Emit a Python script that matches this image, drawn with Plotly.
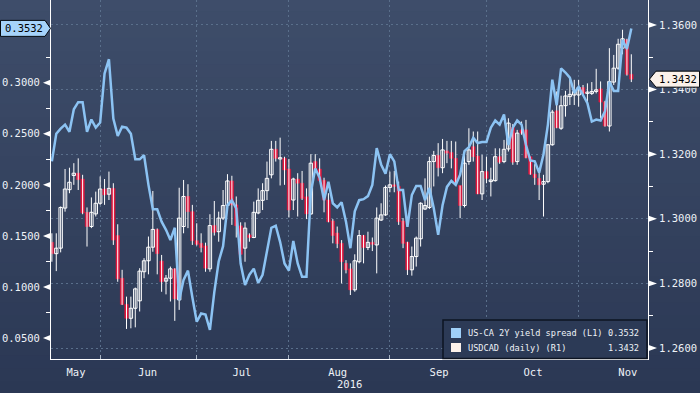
import plotly.graph_objects as go
import pandas as pd

# ---------------- data ----------------
dates = pd.bdate_range("2016-05-17", periods=133)

usdcad_open = [
    1.2927, 1.2892, 1.2909, 1.3033, 1.3090, 1.3134, 1.3141, 1.3123, 1.3020, 1.2976,
    1.3015, 1.3048, 1.3092, 1.3076, 1.3094, 1.2948, 1.2816, 1.2735, 1.2692, 1.2723,
    1.2746, 1.2836, 1.2870, 1.2912, 1.2967, 1.2869, 1.2807, 1.2816, 1.2845, 1.2749,
    1.2976, 1.3069, 1.3022, 1.2932, 1.2924, 1.2916, 1.2845, 1.2979, 1.2960, 1.3002,
    1.3041, 1.3117, 1.3043, 1.2978, 1.2909, 1.2950, 1.2942, 1.3018, 1.3057, 1.3087,
    1.3136, 1.3215, 1.3185, 1.3187, 1.3154, 1.3058, 1.3123, 1.3110, 1.3068, 1.3015,
    1.3177, 1.3154, 1.3119, 1.3058, 1.2993, 1.2956, 1.2924, 1.2862, 1.2845, 1.2780,
    1.2867, 1.2948, 1.2911, 1.2927, 1.2919, 1.2996, 1.3012, 1.3097, 1.3105, 1.3100,
    1.2993, 1.2927, 1.2842, 1.2883, 1.2938, 1.3030, 1.3035, 1.3177, 1.3196, 1.3158,
    1.3210, 1.3205, 1.3187, 1.3103, 1.3041, 1.3177, 1.3223, 1.3194, 1.3077, 1.3146,
    1.3115, 1.3118, 1.3192, 1.3177, 1.3216, 1.3282, 1.3177, 1.3275, 1.3275, 1.3192,
    1.3138, 1.3125, 1.3107, 1.3115, 1.3229, 1.3334, 1.3280, 1.3350, 1.3378, 1.3383,
    1.3383, 1.3406, 1.3388, 1.3388, 1.3394, 1.3402, 1.3361, 1.3287, 1.3423, 1.3466,
    1.3528, 1.3554, 1.3447,
]
usdcad_high = [
    1.2955, 1.2955, 1.3038, 1.3154, 1.3158, 1.3172, 1.3187, 1.3136, 1.3035, 1.3066,
    1.3084, 1.3131, 1.3123, 1.3146, 1.3110, 1.2983, 1.2842, 1.2759, 1.2759, 1.2787,
    1.2847, 1.2878, 1.2945, 1.3086, 1.2970, 1.2888, 1.2826, 1.2852, 1.2847, 1.3096,
    1.3120, 1.3107, 1.3043, 1.2986, 1.2955, 1.2926, 1.3014, 1.3055, 1.3022, 1.3089,
    1.3138, 1.3133, 1.3069, 1.2989, 1.2989, 1.2955, 1.3053, 1.3094, 1.3110, 1.3177,
    1.3241, 1.3241, 1.3251, 1.3192, 1.3185, 1.3127, 1.3141, 1.3148, 1.3094, 1.3200,
    1.3200, 1.3187, 1.3127, 1.3079, 1.2999, 1.2976, 1.2934, 1.2872, 1.2862, 1.2890,
    1.2965, 1.2950, 1.2960, 1.2942, 1.3035, 1.3048, 1.3103, 1.3146, 1.3148, 1.3115,
    1.3002, 1.2929, 1.2914, 1.2945, 1.3051, 1.3125, 1.3192, 1.3210, 1.3234, 1.3247,
    1.3241, 1.3241, 1.3239, 1.3103, 1.3198, 1.3280, 1.3270, 1.3270, 1.3198, 1.3192,
    1.3158, 1.3218, 1.3218, 1.3244, 1.3311, 1.3293, 1.3275, 1.3301, 1.3306, 1.3192,
    1.3169, 1.3154, 1.3136, 1.3231, 1.3337, 1.3394, 1.3381, 1.3396, 1.3433, 1.3430,
    1.3430, 1.3414, 1.3419, 1.3423, 1.3464, 1.3425, 1.3365, 1.3528, 1.3507, 1.3557,
    1.3585, 1.3557, 1.3509,
]
usdcad_low = [
    1.2867, 1.2838, 1.2896, 1.3022, 1.3079, 1.3105, 1.3089, 1.3014, 1.2914, 1.2971,
    1.3007, 1.3043, 1.3043, 1.3058, 1.2919, 1.2805, 1.2733, 1.2659, 1.2661, 1.2664,
    1.2713, 1.2816, 1.2828, 1.2898, 1.2828, 1.2774, 1.2766, 1.2744, 1.2684, 1.2718,
    1.2955, 1.2971, 1.2919, 1.2917, 1.2896, 1.2836, 1.2836, 1.2948, 1.2929, 1.2996,
    1.3033, 1.2981, 1.2942, 1.2888, 1.2867, 1.2929, 1.2940, 1.3014, 1.3027, 1.3058,
    1.3125, 1.3177, 1.3103, 1.3105, 1.3004, 1.3027, 1.3007, 1.3058, 1.2999, 1.3012,
    1.3148, 1.3115, 1.3020, 1.2989, 1.2924, 1.2909, 1.2800, 1.2831, 1.2764, 1.2774,
    1.2862, 1.2862, 1.2903, 1.2900, 1.2831, 1.2993, 1.3009, 1.3082, 1.3082, 1.2981,
    1.2909, 1.2826, 1.2824, 1.2852, 1.2914, 1.3027, 1.3030, 1.3100, 1.3131, 1.3141,
    1.3172, 1.3156, 1.3105, 1.3002, 1.3035, 1.3167, 1.3177, 1.3076, 1.3058, 1.3110,
    1.3069, 1.3115, 1.3170, 1.3172, 1.3208, 1.3167, 1.3167, 1.3260, 1.3187, 1.3136,
    1.3105, 1.3058, 1.3007, 1.3110, 1.3226, 1.3280, 1.3275, 1.3316, 1.3352, 1.3352,
    1.3347, 1.3383, 1.3358, 1.3383, 1.3388, 1.3311, 1.3285, 1.3270, 1.3414, 1.3461,
    1.3509, 1.3443, 1.3423,
]
usdcad_close = [
    1.2892, 1.2909, 1.3035, 1.3092, 1.3113, 1.3141, 1.3121, 1.3018, 1.2976, 1.3020,
    1.3048, 1.3092, 1.3074, 1.3094, 1.2934, 1.2814, 1.2735, 1.2692, 1.2723, 1.2783,
    1.2838, 1.2870, 1.2912, 1.2967, 1.2892, 1.2805, 1.2816, 1.2845, 1.2752, 1.3002,
    1.3069, 1.3022, 1.2932, 1.2921, 1.2911, 1.2847, 1.2979, 1.2958, 1.3002, 1.3041,
    1.3117, 1.3043, 1.2978, 1.2890, 1.2971, 1.2942, 1.3020, 1.3057, 1.3087, 1.3125,
    1.3215, 1.3187, 1.3189, 1.3151, 1.3027, 1.3123, 1.3110, 1.3063, 1.3015, 1.3172,
    1.3154, 1.3118, 1.3058, 1.2991, 1.2948, 1.2923, 1.2867, 1.2842, 1.2780, 1.2870,
    1.2948, 1.2911, 1.2927, 1.2921, 1.3002, 1.3012, 1.3097, 1.3105, 1.3100, 1.2991,
    1.2924, 1.2842, 1.2883, 1.2940, 1.3048, 1.3041, 1.3177, 1.3196, 1.3158, 1.3213,
    1.3203, 1.3187, 1.3110, 1.3041, 1.3172, 1.3213, 1.3192, 1.3077, 1.3146, 1.3125,
    1.3120, 1.3192, 1.3175, 1.3215, 1.3296, 1.3175, 1.3265, 1.3265, 1.3189, 1.3138,
    1.3127, 1.3105, 1.3115, 1.3229, 1.3330, 1.3282, 1.3350, 1.3380, 1.3385, 1.3394,
    1.3406, 1.3388, 1.3392, 1.3394, 1.3399, 1.3361, 1.3287, 1.3425, 1.3466, 1.3540,
    1.3557, 1.3447, 1.3432,
]
spread_2y = [
    0.223, 0.250, 0.255, 0.259, 0.252, 0.274, 0.281, 0.281, 0.252, 0.264,
    0.256, 0.261, 0.309, 0.323, 0.265, 0.248, 0.257, 0.256, 0.250, 0.225,
    0.225, 0.229, 0.200, 0.176, 0.176, 0.164, 0.156, 0.146, 0.158, 0.087,
    0.107, 0.116, 0.090, 0.066, 0.074, 0.073, 0.058, 0.095, 0.125, 0.140,
    0.180, 0.185, 0.177, 0.123, 0.102, 0.112, 0.118, 0.104, 0.112, 0.136,
    0.158, 0.160, 0.144, 0.123, 0.116, 0.145, 0.123, 0.110, 0.110, 0.193,
    0.216, 0.207, 0.185, 0.203, 0.182, 0.178, 0.183, 0.164, 0.138, 0.174,
    0.185, 0.186, 0.189, 0.200, 0.236, 0.220, 0.211, 0.230, 0.223, 0.195,
    0.195, 0.159, 0.190, 0.199, 0.199, 0.185, 0.197, 0.177, 0.151, 0.180,
    0.198, 0.204, 0.200, 0.210, 0.233, 0.237, 0.246, 0.241, 0.242, 0.242,
    0.256, 0.263, 0.259, 0.269, 0.239, 0.256, 0.263, 0.259, 0.239, 0.224,
    0.223, 0.212, 0.230, 0.259, 0.303, 0.278, 0.314, 0.310, 0.305, 0.290,
    0.296, 0.288, 0.280, 0.262, 0.264, 0.263, 0.272, 0.301, 0.292, 0.292,
    0.342, 0.333, 0.3532,
]
spread_last = 0.3532
usdcad_last = 1.3432
series_names = ["US-CA 2Y yield spread (L1)", "USDCAD (daily) (R1)"]
month_names = ["May", "Jun", "Jul", "Aug", "Sep", "Oct", "Nov"]
year_label = "2016"
left_ticks = [0.05, 0.10, 0.15, 0.20, 0.25, 0.30]
left_minor = [0.075, 0.125, 0.175, 0.225, 0.275, 0.325]
right_ticks = [1.26, 1.28, 1.30, 1.32, 1.34, 1.36]
right_minor = [1.27, 1.29, 1.31, 1.33, 1.35]

# ---------------- styles ----------------
FONT = "DejaVu Sans Mono"
RED = "#e2163d"
BLUE = "#8cc3f3"
CREAM = "#fbf1ea"
GRID = "#5a6f8b"
HOLLOW = "#35435f"
TXT = "#eef2f7"

LEFT_RANGE = [0.0295, 0.381]
RIGHT_RANGE = [1.2566, 1.3677]

x = list(range(len(dates)))
month_bounds = [i for i in range(1, len(dates)) if dates[i].month != dates[i - 1].month]
month_label_pos = [5.5, 21.8, 43.3, 65.1, 88.2, 109.6, 131.2]

# wicks
wx, wy = [], []
for i in x:
    wx += [i, i, None]
    wy += [usdcad_low[i], usdcad_high[i], None]

ux, ub, uh, dx, db, dh = [], [], [], [], [], []
for i in x:
    o, c = usdcad_open[i], usdcad_close[i]
    if c >= o:
        ux.append(i); ub.append(o); uh.append(max(c - o, 0.0002))
    else:
        dx.append(i); db.append(c); dh.append(max(o - c, 0.0002))

fig = go.Figure()
fig.add_trace(go.Scatter(x=wx, y=wy, mode="lines", line=dict(color="white", width=1),
                         yaxis="y", hoverinfo="skip", showlegend=False))
fig.add_trace(go.Bar(x=ux, y=uh, base=ub, width=0.78, yaxis="y",
                     marker=dict(color=HOLLOW, line=dict(color="white", width=1)),
                     showlegend=False))
fig.add_trace(go.Bar(x=dx, y=dh, base=db, width=0.8, yaxis="y",
                     marker=dict(color=RED, line=dict(color=RED, width=0.5)),
                     showlegend=False))
fig.add_trace(go.Scatter(x=x, y=spread_2y, mode="lines", yaxis="y2",
                         line=dict(color=BLUE, width=2.5), showlegend=False))

W, H = 700, 393
L, R, T, B = 51, 52, 0, 34
PW, PH = W - L - R, H - T - B


def px(p):
    return (p - L) / PW


def py(p):
    return (H - B - p) / PH


shapes = []
# background gradient bands
top = (62, 77, 106)
bot = (43, 56, 84)
n = 30
y_lo, y_hi = py(H + 2), py(-2)
for k in range(n):
    t = k / (n - 1)
    col = tuple(round(top[j] + (bot[j] - top[j]) * t) for j in range(3))
    y1 = y_hi - (y_hi - y_lo) * k / n
    y0 = y_hi - (y_hi - y_lo) * (k + 1) / n - 0.003
    shapes.append(dict(type="rect", xref="paper", yref="paper", x0=px(-5), x1=px(W + 5),
                       y0=y0, y1=y1, fillcolor="rgb(%d,%d,%d)" % col, line=dict(width=0),
                       layer="below"))

# tick triangles
hL = 3.2 * (LEFT_RANGE[1] - LEFT_RANGE[0]) / PH
hR = 3.2 * (RIGHT_RANGE[1] - RIGHT_RANGE[0]) / PH
for v in left_ticks:
    shapes.append(dict(type="path", xref="paper", yref="y2",
                       path="M %f,%f L %f,%f L %f,%f Z" % (px(43), v, px(51), v + hL, px(51), v - hL),
                       fillcolor="white", line=dict(width=0), layer="above"))
for v in right_ticks:
    shapes.append(dict(type="path", xref="paper", yref="y",
                       path="M %f,%f L %f,%f L %f,%f Z" % (px(657), v, px(648), v + hR, px(648), v - hR),
                       fillcolor="white", line=dict(width=0), layer="above"))

# value pins
hs = 8 * (LEFT_RANGE[1] - LEFT_RANGE[0]) / PH
v = spread_last
shapes.append(dict(type="path", xref="paper", yref="y2",
                   path="M %f,%f L %f,%f L %f,%f L %f,%f L %f,%f Z" % (
                       px(0.5), v - hs, px(45), v - hs, px(50.5), v, px(45), v + hs, px(0.5), v + hs),
                   fillcolor="#a6d3fa", line=dict(color="#05080d", width=1), layer="above"))
hp = 8 * (RIGHT_RANGE[1] - RIGHT_RANGE[0]) / PH
v = usdcad_last
shapes.append(dict(type="path", xref="paper", yref="y",
                   path="M %f,%f L %f,%f L %f,%f L %f,%f L %f,%f Z" % (
                       px(649.5), v, px(656), v - hp, px(699.5), v - hp, px(699.5), v + hp, px(656), v + hp),
                   fillcolor=CREAM, line=dict(color="#05080d", width=1), layer="above"))

# legend box
shapes.append(dict(type="rect", xref="paper", yref="paper", x0=px(443), x1=px(647),
                   y0=py(358.5), y1=py(320), fillcolor="#2c3a56",
                   line=dict(color="#0d1422", width=1.5), layer="above"))
shapes.append(dict(type="rect", xref="paper", yref="paper", x0=px(451), x1=px(461),
                   y0=py(338), y1=py(328), fillcolor="#9fcff8", line=dict(width=0), layer="above"))
shapes.append(dict(type="rect", xref="paper", yref="paper", x0=px(451), x1=px(461),
                   y0=py(352), y1=py(343), fillcolor=CREAM, line=dict(width=0), layer="above"))

LEGF = dict(family=FONT, size=8.6, color=TXT)
annotations = [
    dict(text="%.4f" % spread_last, xref="paper", yref="y2", x=px(23.5), y=spread_last,
         xanchor="center", yanchor="middle",
         showarrow=False, font=dict(family=FONT, size=10.5, color="#000000")),
    dict(text="%.4f" % usdcad_last, xref="paper", yref="y", x=px(677.5), y=usdcad_last,
         xanchor="center", yanchor="middle",
         showarrow=False, font=dict(family=FONT, size=10.5, color="#000000")),
    dict(text=series_names[0], xref="paper", yref="paper", x=px(466), y=py(333),
         xanchor="left", yanchor="middle", showarrow=False, font=LEGF),
    dict(text="%.4f" % spread_last, xref="paper", yref="paper", x=px(641), y=py(333),
         xanchor="right", yanchor="middle", showarrow=False, font=LEGF),
    dict(text=series_names[1], xref="paper", yref="paper", x=px(466), y=py(347.5),
         xanchor="left", yanchor="middle", showarrow=False, font=LEGF),
    dict(text="%.4f" % usdcad_last, xref="paper", yref="paper", x=px(641), y=py(347.5),
         xanchor="right", yanchor="middle", showarrow=False, font=LEGF),
    dict(text=year_label, xref="paper", yref="paper", x=px(349), y=py(384),
         xanchor="center", yanchor="middle", showarrow=False,
         font=dict(family=FONT, size=10.5, color=TXT)),
]

tickfont = dict(family=FONT, size=10.5, color=TXT)
fig.update_layout(
    width=W, height=H,
    margin=dict(l=L, r=R, t=T, b=B, pad=0, autoexpand=False),
    paper_bgcolor="#34425f",
    plot_bgcolor="rgba(0,0,0,0)",
    barmode="overlay",
    showlegend=False,
    hovermode=False,
    shapes=shapes,
    annotations=annotations,
    xaxis=dict(
        range=[-0.2, 135.8], showline=True, linecolor="white", linewidth=1,
        automargin=False,
        tickmode="array", tickvals=month_label_pos, ticktext=month_names,
        ticks="outside", ticklen=3, tickcolor="rgba(0,0,0,0)", showgrid=False,
        zeroline=False, tickfont=tickfont,
        minor=dict(tickmode="array", tickvals=month_bounds, ticks="inside", ticklen=4,
                   tickcolor="#a8b4c4", showgrid=True, gridcolor=GRID, griddash="2px,3px",
                   gridwidth=1),
    ),
    yaxis=dict(
        side="right", range=RIGHT_RANGE, tickmode="array", tickvals=right_ticks,
        automargin=False,
        tickformat=".4f", ticks="outside", ticklen=8, tickcolor="rgba(0,0,0,0)",
        showgrid=True, gridcolor=GRID, griddash="2px,3px", gridwidth=1,
        showline=True, linecolor="white", linewidth=1, zeroline=False, tickfont=tickfont,
        minor=dict(tickmode="array", tickvals=right_minor, ticks="outside", ticklen=4,
                   tickcolor="white", showgrid=False),
    ),
    yaxis2=dict(
        overlaying="y", side="left", range=LEFT_RANGE, tickmode="array",
        automargin=False,
        tickvals=left_ticks, tickformat=".4f", ticks="outside", ticklen=8,
        tickcolor="rgba(0,0,0,0)", showgrid=False, showline=True, linecolor="white",
        linewidth=1, zeroline=False, tickfont=tickfont,
        minor=dict(tickmode="array", tickvals=left_minor, ticks="outside", ticklen=4,
                   tickcolor="white", showgrid=False),
    ),
)

fig.write_html("out.html",
               config={"displayModeBar": False, "staticPlot": True},
               post_script="document.body.style.margin='0px';document.body.style.padding='0px';"
                           "document.body.style.overflow='hidden';")
